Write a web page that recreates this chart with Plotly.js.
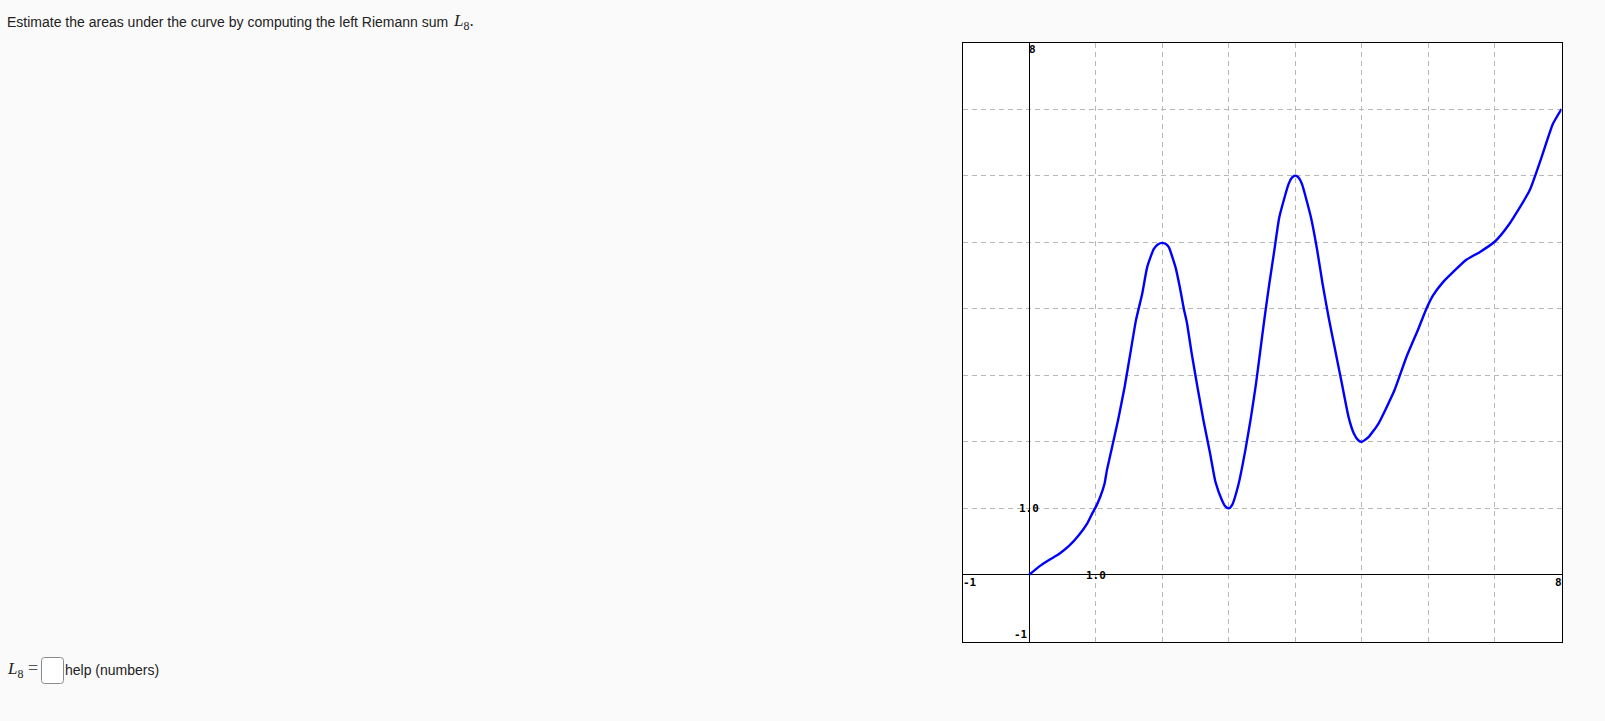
<!DOCTYPE html>
<html>
<head>
<meta charset="utf-8">
<script src="https://cdn.plot.ly/plotly-3.0.1.min.js"></script>
<style>
html,body{margin:0;padding:0;background:#fafafa;}
#chart{width:1605px;height:721px;}
</style>
</head>
<body>
<div id="chart"></div>
<script>
// Curve samples
var curveX = [0, 0.15, 0.3, 0.45, 0.6, 0.75, 0.875, 0.95, 1.0, 1.07, 1.135, 1.17, 1.232, 1.337, 1.436, 1.521, 1.606, 1.7, 1.775, 1.875, 1.94, 2.0,
  2.06, 2.1, 2.2, 2.265, 2.325, 2.37, 2.444, 2.53, 2.62, 2.72, 2.8, 2.9, 2.95, 3.0,
  3.05, 3.15, 3.25, 3.335, 3.41, 3.475, 3.54, 3.61, 3.685, 3.76, 3.9, 3.95, 4.0,
  4.05, 4.1, 4.235, 4.33, 4.41, 4.5, 4.6, 4.7, 4.8, 4.88, 4.95, 5.0,
  5.1, 5.25, 5.49, 5.67, 5.85, 5.97, 6.07, 6.22, 6.37, 6.57, 6.77, 7.0, 7.2, 7.52, 7.7, 7.87, 8.0];
var curveY = [0, 0.125, 0.225, 0.315, 0.435, 0.6, 0.775, 0.925, 1.015, 1.175, 1.375, 1.575, 1.85, 2.325, 2.825, 3.325, 3.825, 4.225, 4.625, 4.9, 4.97, 4.99,
  4.97, 4.925, 4.625, 4.325, 4.0, 3.8, 3.325, 2.825, 2.325, 1.825, 1.4, 1.12, 1.03, 1.0,
  1.05, 1.375, 1.875, 2.375, 2.875, 3.375, 3.875, 4.375, 4.875, 5.375, 5.875, 5.97, 6.0,
  5.97, 5.875, 5.375, 4.875, 4.375, 3.875, 3.375, 2.875, 2.375, 2.125, 2.02, 2.0,
  2.07, 2.275, 2.775, 3.275, 3.7, 4.0, 4.2, 4.4, 4.55, 4.735, 4.85, 5.01, 5.25, 5.775, 6.275, 6.775, 7.0];

var axisMin = -1, axisMax = 8;
var tickLabels = {top: "8", right: "8", xOne: "1.0", yOne: "1.0", xMin: "-1", yMin: "-1"};
var questionText = "Estimate the areas under the curve by computing the left Riemann sum ";
var answerHelp = "help (numbers)";

var W = 1605, H = 721;
function px(x){return x/W;}
function py(y){return 1 - y/H;}

var labFont = {family: "DejaVu Sans Mono", size: 11, color: "#000", weight: "bold"};

var trace = {
  x: curveX, y: curveY, type: "scatter", mode: "lines",
  line: {color: "#0000ff", width: 2.4, shape: "spline", smoothing: 0.5},
  hoverinfo: "skip"
};

var boxPath = (function(){
  var x0 = px(41.5), x1 = px(63.5), y0 = py(657.5), y1 = py(683.5);
  var rx = 3/W, ry = 3/H;
  return "M " + (x0+rx) + "," + y0 +
    " L " + (x1-rx) + "," + y0 + " Q " + x1 + "," + y0 + " " + x1 + "," + (y0-ry) +
    " L " + x1 + "," + (y1+ry) + " Q " + x1 + "," + y1 + " " + (x1-rx) + "," + y1 +
    " L " + (x0+rx) + "," + y1 + " Q " + x0 + "," + y1 + " " + x0 + "," + (y1+ry) +
    " L " + x0 + "," + (y0-ry) + " Q " + x0 + "," + y0 + " " + (x0+rx) + "," + y0 + " Z";
})();

var layout = {
  width: W, height: H,
  margin: {l: 0, r: 0, t: 0, b: 0},
  paper_bgcolor: "#fafafa",
  plot_bgcolor: "#ffffff",
  showlegend: false,
  xaxis: {
    domain: [px(962.5), px(1561.5)], range: [axisMin, axisMax],
    tick0: 0, dtick: 1, showticklabels: false, ticks: "",
    showgrid: true, gridcolor: "#b8b8b8", gridwidth: 1, griddash: "5px,4px",
    zeroline: true, zerolinecolor: "#000", zerolinewidth: 1,
    showline: true, mirror: true, linecolor: "#000", linewidth: 1,
    fixedrange: true
  },
  yaxis: {
    domain: [py(641.5), py(42.5)], range: [axisMin, axisMax],
    tick0: 0, dtick: 1, showticklabels: false, ticks: "",
    showgrid: true, gridcolor: "#b8b8b8", gridwidth: 1, griddash: "5px,4px",
    zeroline: true, zerolinecolor: "#000", zerolinewidth: 1,
    showline: true, mirror: true, linecolor: "#000", linewidth: 1,
    fixedrange: true
  },
  shapes: [
    {type: "path", xref: "paper", yref: "paper", path: boxPath,
     line: {color: "#8a8a8a", width: 1}, fillcolor: "#ffffff"}
  ],
  annotations: [
    {xref: "paper", yref: "paper", x: px(5), y: py(22), xanchor: "left", yanchor: "middle",
     text: questionText, showarrow: false,
     font: {family: "Liberation Sans, Arial", size: 14, color: "#222"}},
    {xref: "paper", yref: "paper", x: px(451), y: py(22), xanchor: "left", yanchor: "middle",
     text: "<i>L</i><sub>8</sub>.", showarrow: false,
     font: {family: "Liberation Serif, DejaVu Serif", size: 17, color: "#222"}},
    {xref: "paper", yref: "paper", x: px(5), y: py(670), xanchor: "left", yanchor: "middle",
     text: "<i>L</i><sub>8</sub>", showarrow: false,
     font: {family: "Liberation Serif, DejaVu Serif", size: 17, color: "#222"}},
    {xref: "paper", yref: "paper", x: px(26), y: py(668), xanchor: "left", yanchor: "middle",
     text: "=", showarrow: false,
     font: {family: "Liberation Serif, DejaVu Serif", size: 18, color: "#555"}},
    {xref: "paper", yref: "paper", x: px(63), y: py(670), xanchor: "left", yanchor: "middle",
     text: answerHelp, showarrow: false,
     font: {family: "Liberation Sans, Arial", size: 14, color: "#222"}},
    // axis labels
    {xref: "x", yref: "y", x: 0, y: axisMax, xanchor: "left", yanchor: "top",
     text: tickLabels.top, showarrow: false, font: labFont, xshift: -2, yshift: 1},
    {xref: "x", yref: "y", x: 0, y: 1, xanchor: "center", yanchor: "middle",
     text: tickLabels.yOne, showarrow: false, font: labFont, xshift: 0},
    {xref: "x", yref: "y", x: 1, y: 0, xanchor: "center", yanchor: "middle",
     text: tickLabels.xOne, showarrow: false, font: labFont, yshift: -1},
    {xref: "x", yref: "y", x: axisMin, y: 0, xanchor: "left", yanchor: "top",
     text: tickLabels.xMin, showarrow: false, font: labFont, xshift: -2, yshift: 1},
    {xref: "x", yref: "y", x: 0, y: axisMin, xanchor: "right", yanchor: "bottom",
     text: tickLabels.yMin, showarrow: false, font: labFont, xshift: 1, yshift: -1},
    {xref: "x", yref: "y", x: axisMax, y: 0, xanchor: "right", yanchor: "top",
     text: tickLabels.right, showarrow: false, font: labFont, xshift: 2, yshift: 1}
  ]
};

Plotly.newPlot("chart", [trace], layout, {staticPlot: true, displayModeBar: false});
</script>
</body>
</html>
